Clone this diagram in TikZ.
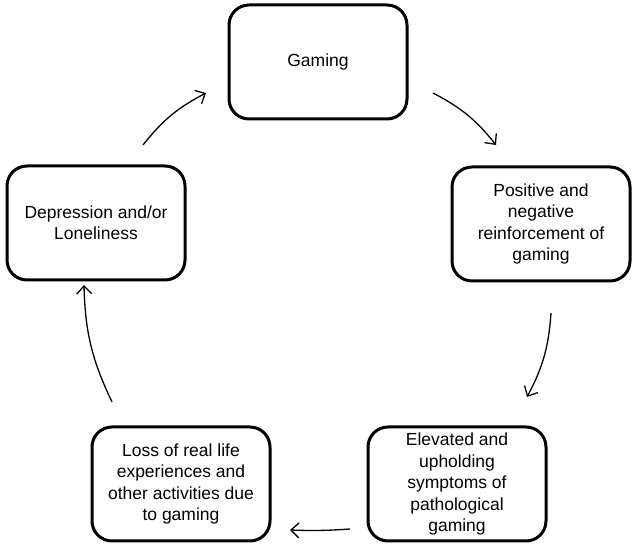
\documentclass[tikz,border=0pt]{standalone}
\usepackage{fontspec}
\setmainfont{Liberation Sans}
\usetikzlibrary{arrows.meta}
\begin{document}
\begin{tikzpicture}[x=1pt,y=1pt,
  box/.style={draw=black, line width=3pt, rounded corners=20pt, minimum width=178pt, minimum height=114pt, align=center, inner sep=0pt, font=\fontsize{17.5}{21.5}\selectfont},
  arr/.style={line width=1.3pt, -{Straight Barb[length=8pt,width=15pt,line width=1.3pt]}}]
\useasboundingbox (0,0) rectangle (638,551);
\node[box] (g) at (318,489) {Gaming};
\node[box] (p) at (541,327) {Positive and\\negative\\reinforcement of\\gaming};
\node[box] (e) at (457,67) {Elevated and\\upholding\\symptoms of\\pathological\\gaming};
\node[box] (l) at (181,67) {Loss of real life\\experiences and\\other activities due\\to gaming};
\node[box] (d) at (96,328) {Depression and/or\\Loneliness};
\coordinate (a1s) at (433,458); \coordinate (a1e) at (496,406);
\coordinate (a2s) at (551,238); \coordinate (a2e) at (527,154);
\coordinate (a3s) at (350,22);  \coordinate (a3e) at (290,21);
\coordinate (a4s) at (112,149); \coordinate (a4e) at (84,266);
\coordinate (a5s) at (143,406); \coordinate (a5e) at (206,458);
\draw[arr] (a1s) to[bend left=12] (a1e);
\draw[arr] (a2s) to[bend left=12] (a2e);
\draw[arr] (a3s) to[bend left=3] (a3e);
\draw[arr] (a4s) to[bend left=12] (a4e);
\draw[arr] (a5s) to[bend left=12] (a5e);
\end{tikzpicture}
\end{document}
